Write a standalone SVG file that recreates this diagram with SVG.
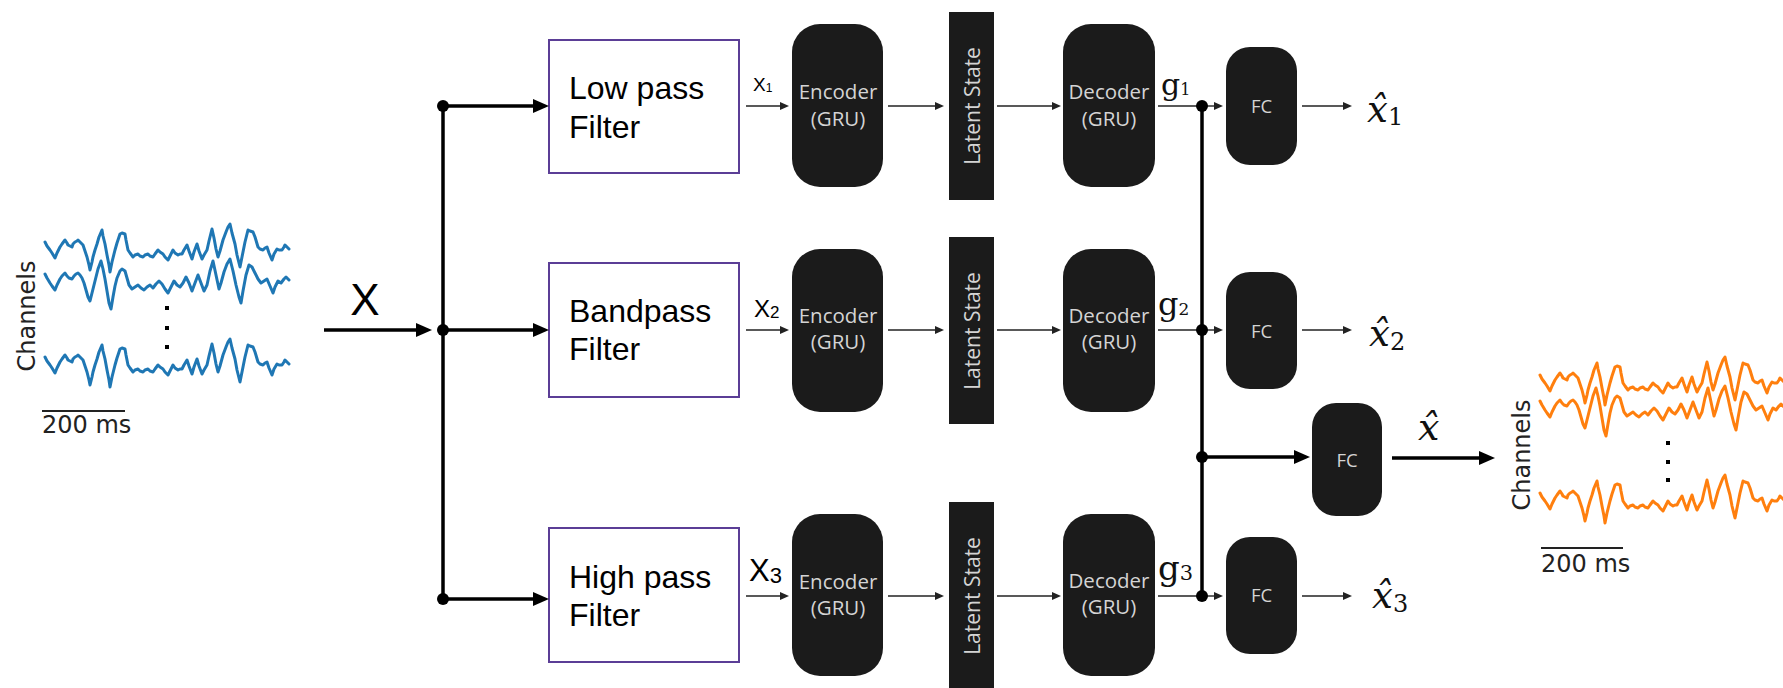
<svg xmlns="http://www.w3.org/2000/svg" xmlns:xlink="http://www.w3.org/1999/xlink" width="1783" height="688" viewBox="0 0 1783 688">
  <style>
    .filt{fill:#fff;stroke:#5b3e96;stroke-width:2}
    .ftxt{font-family:"Liberation Sans",Arial,sans-serif;font-size:32px;fill:#000}
    .blk{fill:#1b1b1b}
    .btxt{font-family:"Open Sans","DejaVu Sans",sans-serif;fill:#d4d4d4;text-anchor:middle;font-size:20.5px}
    .lat{font-family:"Open Sans","DejaVu Sans",sans-serif;fill:#d4d4d4;text-anchor:middle;font-size:21px}
    .fctxt{font-family:"Open Sans","DejaVu Sans",sans-serif;fill:#d4d4d4;text-anchor:middle;font-size:18.5px}
    .thin{stroke:#222;stroke-width:1.4;fill:none;marker-end:url(#ah)}
    .thinplain{stroke:#222;stroke-width:1.4;fill:none}
    .thick{stroke:#000;stroke-width:3.5;fill:none}
    .thickarr{stroke:#000;stroke-width:3.5;fill:none;marker-end:url(#AH)}
    .sig{fill:none;stroke-width:3;stroke-linejoin:round;stroke-linecap:round}
    .mpl{font-family:"DejaVu Sans",sans-serif;font-size:24px;fill:#222}
    .lbl{font-family:"Liberation Sans",Arial,sans-serif;fill:#000}
    .math{font-family:"DejaVu Serif","Liberation Serif",serif;fill:#111}
  </style>
  <defs>
    <marker id="ah" markerUnits="userSpaceOnUse" markerWidth="9" markerHeight="8" refX="6" refY="4" orient="auto">
      <path d="M0,0L9,4L0,8z" fill="#222"/>
    </marker>
    <marker id="AH" markerUnits="userSpaceOnUse" markerWidth="16" markerHeight="14" refX="4" refY="7" orient="auto">
      <path d="M0,0L16,7L0,14z" fill="#000"/>
    </marker>
    <!-- EEG-like trace, local origin at left end of its baseline -->
    <path id="sigA" d="M0,-5 L2,-1 L5,3 L7,6 L10,11 L12,6 L15,0 L17,-3 L20,-7 L22,-4 L23,-2 L25,-1 L27,0 L28,-3 L30,-5 L32,-6 L33,-7 L35,-5 L37,-3 L38,-2 L40,4 L42,10 L44,18 L45,23 L47,15 L48,10 L50,3 L52,-3 L54,-10 L57,-17 L58,-11 L60,-3 L62,8 L64,18 L65,25 L67,15 L70,3 L72,-4 L75,-13 L77,-14 L80,-13 L81,-7 L83,3 L85,6 L88,10 L90,8 L93,7 L95,9 L98,10 L100,8 L103,7 L105,9 L108,10 L110,7 L113,3 L115,5 L118,7 L120,10 L123,13 L125,9 L128,3 L130,6 L133,8 L135,7 L137,7 L139,3 L142,-2 L144,4 L147,12 L149,5 L152,-3 L154,4 L157,12 L159,8 L162,3 L164,-6 L167,-18 L169,-9 L171,2 L173,10 L175,4 L178,-7 L181,-15 L183,-20 L185,-23 L187,-14 L190,-3 L192,8 L195,20 L197,10 L200,-5 L203,-17 L205,-16 L208,-15 L210,-10 L213,0 L215,2 L218,3 L220,1 L222,0 L224,6 L227,13 L229,7 L232,2 L234,3 L237,3 L239,0 L240,-2 L242,0 L244,2"/>
    <path id="sigB" d="M0,-7 L2,-3 L5,2 L7,5 L10,9 L12,4 L15,-2 L17,-5 L20,-8 L22,-5 L24,-3 L27,-2 L29,-5 L31,-7 L33,-8 L35,-6 L37,-3 L39,2 L41,9 L43,16 L45,20 L47,12 L49,4 L51,-4 L53,-12 L56,-20 L58,-12 L60,-2 L62,10 L64,22 L66,28 L68,16 L70,5 L72,-3 L75,-10 L77,-12 L80,-10 L82,-3 L84,4 L87,8 L90,6 L93,4 L96,7 L99,9 L102,6 L105,4 L108,7 L111,3 L114,0 L117,3 L120,8 L123,12 L126,6 L129,0 L132,4 L135,6 L138,2 L141,-4 L144,2 L147,10 L150,2 L153,-6 L156,2 L159,10 L162,4 L165,-10 L168,-20 L171,-6 L174,8 L176,2 L179,-9 L182,-17 L185,-22 L188,-10 L191,4 L194,16 L196,22 L198,10 L201,-6 L204,-16 L207,-14 L210,-8 L213,-2 L216,2 L219,0 L222,-2 L225,5 L228,12 L230,6 L233,0 L236,2 L239,-2 L241,-4 L244,-1"/>
  </defs>

  <!-- input multichannel signal -->
  <g id="input-signal">
    <use xlink:href="#sigA" href="#sigA" class="sig" stroke="#1f77b4" transform="translate(45,247)"/>
    <use xlink:href="#sigB" href="#sigB" class="sig" stroke="#1f77b4" transform="translate(45,281)"/>
    <use xlink:href="#sigA" href="#sigA" class="sig" stroke="#1f77b4" transform="translate(45,362)"/>
    <rect x="165" y="306" width="4" height="4" fill="#000"/>
    <rect x="165" y="326" width="4" height="4" fill="#000"/>
    <rect x="165" y="345" width="4" height="4" fill="#000"/>
    <text class="mpl" transform="translate(35,316) rotate(-90)" text-anchor="middle">Channels</text>
    <line x1="42" y1="411" x2="125" y2="411" stroke="#222" stroke-width="2"/>
    <text class="mpl" x="42" y="433">200 ms</text>
  </g>

  <text class="lbl" x="365" y="315" font-size="44" text-anchor="middle">X</text>

  <!-- filter bank -->
  <g id="lowpass">
    <rect class="filt" x="549" y="40" width="190" height="133"/>
    <text class="ftxt" x="569" y="99">Low pass</text>
    <text class="ftxt" x="569" y="138">Filter</text>
  </g>
  <g id="bandpass">
    <rect class="filt" x="549" y="263" width="190" height="134"/>
    <text class="ftxt" x="569" y="322">Bandpass</text>
    <text class="ftxt" x="569" y="360">Filter</text>
  </g>
  <g id="highpass">
    <rect class="filt" x="549" y="528" width="190" height="134"/>
    <text class="ftxt" x="569" y="588">High pass</text>
    <text class="ftxt" x="569" y="626">Filter</text>
  </g>

  <!-- band labels -->
  <text class="lbl" x="753" y="91" font-size="19">X<tspan font-size="12" dy="1">1</tspan></text>
  <text class="lbl" x="754" y="317" font-size="24">X<tspan font-size="17" dy="1">2</tspan></text>
  <text class="lbl" x="749" y="581" font-size="31">X<tspan font-size="22" dy="2">3</tspan></text>

  <!-- encoders -->
  <g id="encoder1">
    <rect class="blk" x="792" y="24" width="91" height="163" rx="28"/>
    <text class="btxt" x="838" y="99">Encoder</text>
    <text class="btxt" x="838" y="126">(GRU)</text>
  </g>
  <g id="encoder2">
    <rect class="blk" x="792" y="249" width="91" height="163" rx="28"/>
    <text class="btxt" x="838" y="323">Encoder</text>
    <text class="btxt" x="838" y="349">(GRU)</text>
  </g>
  <g id="encoder3">
    <rect class="blk" x="792" y="514" width="91" height="162" rx="28"/>
    <text class="btxt" x="838" y="589">Encoder</text>
    <text class="btxt" x="838" y="615">(GRU)</text>
  </g>

  <!-- latent states -->
  <g id="latent1">
    <rect class="blk" x="949" y="12" width="45" height="188"/>
    <text class="lat" transform="translate(980,106) rotate(-90)">Latent State</text>
  </g>
  <g id="latent2">
    <rect class="blk" x="949" y="237" width="45" height="187"/>
    <text class="lat" transform="translate(980,331) rotate(-90)">Latent State</text>
  </g>
  <g id="latent3">
    <rect class="blk" x="949" y="502" width="45" height="187"/>
    <text class="lat" transform="translate(980,596) rotate(-90)">Latent State</text>
  </g>

  <!-- decoders -->
  <g id="decoder1">
    <rect class="blk" x="1063" y="24" width="92" height="163" rx="28"/>
    <text class="btxt" x="1109" y="99">Decoder</text>
    <text class="btxt" x="1109" y="126">(GRU)</text>
  </g>
  <g id="decoder2">
    <rect class="blk" x="1063" y="249" width="92" height="163" rx="28"/>
    <text class="btxt" x="1109" y="323">Decoder</text>
    <text class="btxt" x="1109" y="349">(GRU)</text>
  </g>
  <g id="decoder3">
    <rect class="blk" x="1063" y="514" width="92" height="162" rx="28"/>
    <text class="btxt" x="1109" y="588">Decoder</text>
    <text class="btxt" x="1109" y="614">(GRU)</text>
  </g>

  <!-- decoder outputs -->
  <text class="math" x="1161" y="95" font-size="30">g<tspan font-size="16">1</tspan></text>
  <text class="math" x="1158" y="315" font-size="32">g<tspan font-size="17">2</tspan></text>
  <text class="math" x="1158" y="580" font-size="34">g<tspan font-size="21">3</tspan></text>

  <!-- fully connected heads -->
  <g id="fc1">
    <rect class="blk" x="1226" y="47" width="71" height="118" rx="24"/>
    <text class="fctxt" x="1261.5" y="113">FC</text>
  </g>
  <g id="fc2">
    <rect class="blk" x="1226" y="272" width="71" height="117" rx="24"/>
    <text class="fctxt" x="1261.5" y="338">FC</text>
  </g>
  <g id="fc3">
    <rect class="blk" x="1226" y="537" width="71" height="117" rx="24"/>
    <text class="fctxt" x="1261.5" y="602">FC</text>
  </g>
  <g id="fc-combined">
    <rect class="blk" x="1312" y="403" width="70" height="113" rx="24"/>
    <text class="fctxt" x="1347" y="467">FC</text>
  </g>

  <!-- reconstructions -->
  <text class="math" x="1367" y="122" font-size="37"><tspan font-style="italic">x̂</tspan><tspan font-size="24" dy="3">1</tspan></text>
  <text class="math" x="1369" y="346" font-size="37"><tspan font-style="italic">x̂</tspan><tspan font-size="24" dy="4">2</tspan></text>
  <text class="math" x="1372" y="608" font-size="37"><tspan font-style="italic">x̂</tspan><tspan font-size="24" dy="4">3</tspan></text>
  <text class="math" x="1418" y="440" font-size="38" font-style="italic">x̂</text>

  <!-- output multichannel signal -->
  <g id="output-signal">
    <use xlink:href="#sigA" href="#sigA" class="sig" stroke="#ff7f0e" transform="translate(1540,380)"/>
    <use xlink:href="#sigB" href="#sigB" class="sig" stroke="#ff7f0e" transform="translate(1540,408)"/>
    <use xlink:href="#sigA" href="#sigA" class="sig" stroke="#ff7f0e" transform="translate(1540,498)"/>
    <rect x="1666" y="441" width="4" height="4" fill="#000"/>
    <rect x="1666" y="460" width="4" height="4" fill="#000"/>
    <rect x="1666" y="478" width="4" height="4" fill="#000"/>
    <text class="mpl" transform="translate(1530,455) rotate(-90)" text-anchor="middle">Channels</text>
    <line x1="1541" y1="548" x2="1623" y2="548" stroke="#222" stroke-width="2"/>
    <text class="mpl" x="1541" y="572">200 ms</text>
  </g>

  <!-- connectors -->
  <g id="connectors">
    <line class="thickarr" x1="324" y1="330" x2="420" y2="330"/>
    <line class="thick" x1="443" y1="106" x2="443" y2="599"/>
    <line class="thickarr" x1="443" y1="106" x2="537" y2="106"/>
    <line class="thickarr" x1="443" y1="330" x2="537" y2="330"/>
    <line class="thickarr" x1="443" y1="599" x2="537" y2="599"/>

    <line class="thin" x1="746" y1="106" x2="786" y2="106"/>
    <line class="thin" x1="888" y1="106" x2="941" y2="106"/>
    <line class="thin" x1="997" y1="106" x2="1058" y2="106"/>
    <line class="thinplain" x1="1158" y1="106" x2="1202" y2="106"/>
    <line class="thin" x1="1202" y1="106" x2="1220" y2="106"/>
    <line class="thin" x1="1302" y1="106" x2="1349" y2="106"/>

    <line class="thin" x1="746" y1="330" x2="786" y2="330"/>
    <line class="thin" x1="888" y1="330" x2="941" y2="330"/>
    <line class="thin" x1="997" y1="330" x2="1058" y2="330"/>
    <line class="thinplain" x1="1158" y1="330" x2="1202" y2="330"/>
    <line class="thin" x1="1202" y1="330" x2="1220" y2="330"/>
    <line class="thin" x1="1302" y1="330" x2="1349" y2="330"/>

    <line class="thin" x1="746" y1="596" x2="786" y2="596"/>
    <line class="thin" x1="888" y1="596" x2="941" y2="596"/>
    <line class="thin" x1="997" y1="596" x2="1058" y2="596"/>
    <line class="thinplain" x1="1158" y1="596" x2="1202" y2="596"/>
    <line class="thin" x1="1202" y1="596" x2="1220" y2="596"/>
    <line class="thin" x1="1302" y1="596" x2="1349" y2="596"/>

    <line class="thick" x1="1202" y1="106" x2="1202" y2="596"/>
    <line class="thickarr" x1="1202" y1="457" x2="1298" y2="457"/>
    <line class="thickarr" x1="1392" y1="458" x2="1483" y2="458"/>

    <circle cx="443" cy="106" r="6"/>
    <circle cx="443" cy="330" r="6"/>
    <circle cx="443" cy="599" r="6"/>
    <circle cx="1202" cy="106" r="6"/>
    <circle cx="1202" cy="330" r="6"/>
    <circle cx="1202" cy="457" r="6"/>
    <circle cx="1202" cy="596" r="6"/>
  </g>
</svg>
